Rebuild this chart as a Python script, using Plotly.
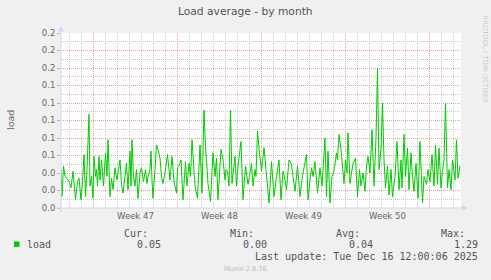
import plotly.graph_objects as go
import pandas as pd

# ---------------- data ----------------
start = pd.Timestamp("2025-11-14 00:00")
hours = [7, 9, 12, 15, 19, 23, 27, 31, 36, 40, 43, 47, 50, 53, 56, 59, 63, 65, 68, 71,
         73, 76, 78, 80, 83, 85, 88, 92, 96, 99, 101, 105, 108, 111, 115, 119, 125, 128, 131, 135,
         138, 141, 145, 147, 149, 152, 155, 158, 161, 165, 168, 172, 176, 179, 181, 185, 187, 189, 191, 195,
         198, 201,
         205, 208, 211, 215, 220, 225, 229, 233, 238, 240, 243, 247, 251, 256, 259, 263, 266, 269, 272, 275,
         280, 285, 289, 293, 296, 299, 301, 306, 311, 315, 318, 321, 327, 331, 335, 337, 340, 343, 346, 349,
         352, 355, 358, 361, 367, 371, 376, 379, 381, 385, 388, 391, 395, 397, 400, 404,
         408, 413, 418, 423, 428, 433, 438, 443, 447, 451, 455, 458, 463, 468, 471, 475, 480, 485, 488, 491,
         498, 501, 505, 508, 511, 515, 520, 525, 529, 535, 538, 541, 545, 549, 553, 558, 560, 563, 567, 571,
         573, 576, 579, 581, 585, 588, 591, 596, 600, 604,
         607, 611, 615, 618, 621, 625, 629, 633, 637, 640, 643, 647, 650, 653, 656, 660, 663, 667, 670, 675,
         679, 683, 687, 689, 693, 696, 700, 703, 707, 710, 713, 717, 721, 725, 730, 733, 738, 741, 745, 749,
         753, 756, 760, 763, 767, 770, 773, 776, 780, 783, 787, 790, 795, 798, 801, 805]
load = [0.044, 0.013, 0.048, 0.036, 0.034, 0.030, 0.023, 0.042, 0.0095, 0.030,
        0.034, 0.0095, 0.030, 0.061, 0.013, 0.044, 0.107, 0.025, 0.036, 0.011,
        0.059, 0.036, 0.044, 0.025, 0.059, 0.032, 0.055, 0.025, 0.063, 0.036,
        0.078, 0.013, 0.034, 0.021, 0.046, 0.032, 0.055, 0.027, 0.017, 0.036,
        0.051, 0.021, 0.065, 0.025, 0.078, 0.036, 0.025, 0.044, 0.011, 0.040,
        0.046, 0.030, 0.044, 0.028, 0.036, 0.044, 0.065, 0.032, 0.011, 0.044,
        0.072, 0.067,
        0.057, 0.036, 0.028, 0.040, 0.061, 0.032, 0.059, 0.030, 0.017, 0.046,
        0.048, 0.055, 0.0095, 0.053, 0.025, 0.051, 0.036, 0.078, 0.044, 0.025,
        0.011, 0.072, 0.017, 0.112, 0.070, 0.044, 0.028, 0.0076, 0.063, 0.036,
        0.057, 0.0095, 0.067, 0.055, 0.032, 0.044, 0.042, 0.025, 0.112, 0.028,
        0.044, 0.059, 0.025, 0.048, 0.076, 0.0095, 0.048, 0.036, 0.027, 0.040,
        0.051, 0.025, 0.044, 0.036, 0.088, 0.063,
        0.042, 0.069, 0.036, 0.0057, 0.053, 0.013, 0.036, 0.055, 0.0095, 0.042,
        0.032, 0.021, 0.055, 0.050, 0.036, 0.019, 0.048, 0.013, 0.028, 0.040,
        0.061, 0.0095, 0.032, 0.046, 0.036, 0.053, 0.017, 0.046, 0.025, 0.080,
        0.013, 0.065, 0.0057, 0.036, 0.042, 0.063, 0.055, 0.084, 0.067, 0.036,
        0.028, 0.055, 0.040, 0.086, 0.028, 0.040, 0.051, 0.057, 0.013, 0.044,
        0.025, 0.040, 0.019, 0.048, 0.059, 0.040, 0.0895, 0.025, 0.080, 0.160,
        0.044, 0.067, 0.120, 0.055, 0.023, 0.048, 0.015, 0.044, 0.013, 0.036,
        0.076, 0.021, 0.055, 0.023, 0.084, 0.036, 0.0685, 0.021, 0.063, 0.036,
        0.019, 0.051, 0.011, 0.076, 0.0057, 0.036, 0.027, 0.044, 0.030, 0.061,
        0.025, 0.072, 0.027, 0.0685, 0.023, 0.042, 0.055, 0.120, 0.023, 0.044,
        0.021, 0.055, 0.032, 0.078, 0.034, 0.048]

week_starts = ["2025-11-17", "2025-11-24", "2025-12-01", "2025-12-08", "2025-12-15"]
week_labels = ["Week 47", "Week 48", "Week 49", "Week 50"]
y_ticks = [0.0, 0.02, 0.04, 0.06, 0.08, 0.10, 0.12, 0.14, 0.16, 0.18, 0.20]
y_tick_labels = ["0.0", "0.0", "0.0", "0.1", "0.1", "0.1", "0.1", "0.1", "0.2", "0.2", "0.2"]
stat_names = ["Cur:", "Min:", "Avg:", "Max:"]
stat_values = ["0.05", "0.00", "0.04", "1.29"]
series_name = "load"
last_update = "Last update: Tue Dec 16 12:00:06 2025"

# ---------------- layout geometry ----------------
W, H = 491, 280
L, R, T, B = 61, 461, 33, 208

def px(x):
    return (x - L) / (R - L)

def py(y):
    return (B - y) / (B - T)

times = [start + pd.Timedelta(hours=h) for h in hours]
x_range = [start + pd.Timedelta(hours=7), start + pd.Timedelta(hours=807)]

FONT = "DejaVu Sans"
MONO = "DejaVu Sans Mono"
TXT = "#666666"
AXIS = "#CFD6F8"
MGRID = "#E8A0A0"
GRID = "#C8C8C8"

fig = go.Figure()
fig.add_trace(go.Scatter(x=times, y=load, mode="lines",
                         line=dict(color="#00CC00", width=1), showlegend=False,
                         hoverinfo="skip"))

fig.update_layout(
    width=W, height=H,
    margin=dict(l=L, r=W - R, t=T, b=H - B),
    paper_bgcolor="#F0F0F0", plot_bgcolor="#FFFFFF",
    showlegend=False,
    xaxis=dict(type="date", range=x_range, tickvals=week_starts, showticklabels=False,
               showgrid=True, gridcolor=MGRID, gridwidth=1, griddash="1px,1px",
               ticks="", zeroline=False, showline=False,
               minor=dict(dtick=86400000, tick0="2025-11-17", showgrid=True,
                          gridcolor=GRID, gridwidth=1, griddash="1px,1px")),
    yaxis=dict(range=[0, 0.2], tickvals=y_ticks, ticktext=y_tick_labels,
               showgrid=True, gridcolor=MGRID, gridwidth=1, griddash="1px,1px",
               ticks="outside", ticklen=3, tickcolor=MGRID,
               tickfont=dict(family=FONT, size=8.5, color=TXT),
               zeroline=False, showline=False,
               minor=dict(dtick=0.01, tick0=0, showgrid=True, gridcolor=GRID,
                          gridwidth=1, griddash="1px,1px")),
)

shapes = []
# axes lines with arrows
shapes.append(dict(type="line", xref="paper", yref="paper", x0=0, x1=0,
                   y0=py(212), y1=py(30), line=dict(color=AXIS, width=1)))
shapes.append(dict(type="line", xref="paper", yref="paper", x0=px(57), x1=px(463),
                   y0=0, y1=0, line=dict(color=AXIS, width=1)))
shapes.append(dict(type="path", xref="paper", yref="paper",
                   path=f"M {px(58)} {py(31.5)} L {px(61)} {py(26)} L {px(64)} {py(31.5)} Z",
                   fillcolor=AXIS, line=dict(color=AXIS, width=0)))
shapes.append(dict(type="path", xref="paper", yref="paper",
                   path=f"M {px(462)} {py(205)} L {px(467.5)} {py(208)} L {px(462)} {py(211)} Z",
                   fillcolor=AXIS, line=dict(color=AXIS, width=0)))
# legend swatch
shapes.append(dict(type="rect", xref="paper", yref="paper", x0=px(14), x1=px(19.5),
                   y0=py(247), y1=py(241.5), fillcolor="#00CC00", line=dict(width=0)))
fig.update_layout(shapes=shapes)

ann = []
def text(x, y, s, size, family=FONT, color=TXT, xanchor="center", angle=0):
    ann.append(dict(xref="paper", yref="paper", x=px(x), y=py(y), text=s, showarrow=False,
                    xanchor=xanchor, yanchor="middle", textangle=angle,
                    borderpad=0, borderwidth=0,
                    font=dict(family=family, size=size, color=color)))

text(245, 12, "Load average - by month", 10.7, color="#555555")
text(10, 120, "load", 9.5, angle=-90)
text(484.5, 59, "RRDTOOL / TOBI OETIKER", 6.8, color="#CCCCCC", angle=90)

# week labels centered mid-week
for ws, lab in zip(week_starts, week_labels):
    xc = pd.Timestamp(ws) + pd.Timedelta(hours=84)
    ann.append(dict(xref="x", yref="paper", x=xc, y=py(215.5), text=lab, showarrow=False,
                    xanchor="center", yanchor="middle", borderpad=0, borderwidth=0,
                    font=dict(family=FONT, size=8.5, color=TXT)))

# legend / stats
text(27, 244.5, series_name, 10, family=MONO, color="#555555", xanchor="left")
name_x = [148, 254, 359.5, 465]
val_x = [161, 267, 372.5, 477.5]
for nx, vx, n, v in zip(name_x, val_x, stat_names, stat_values):
    text(nx, 233.5, n, 10, family=MONO, color="#555555", xanchor="right")
    text(vx, 244.5, v, 10, family=MONO, color="#555555", xanchor="right")
text(477.5, 256.5, last_update, 10, family=MONO, color="#555555", xanchor="right")
text(245, 268.5, "Munin 2.0.76", 6.5, color="#BBBBBB")

fig.update_layout(annotations=ann)
fig.write_html("out.html")
